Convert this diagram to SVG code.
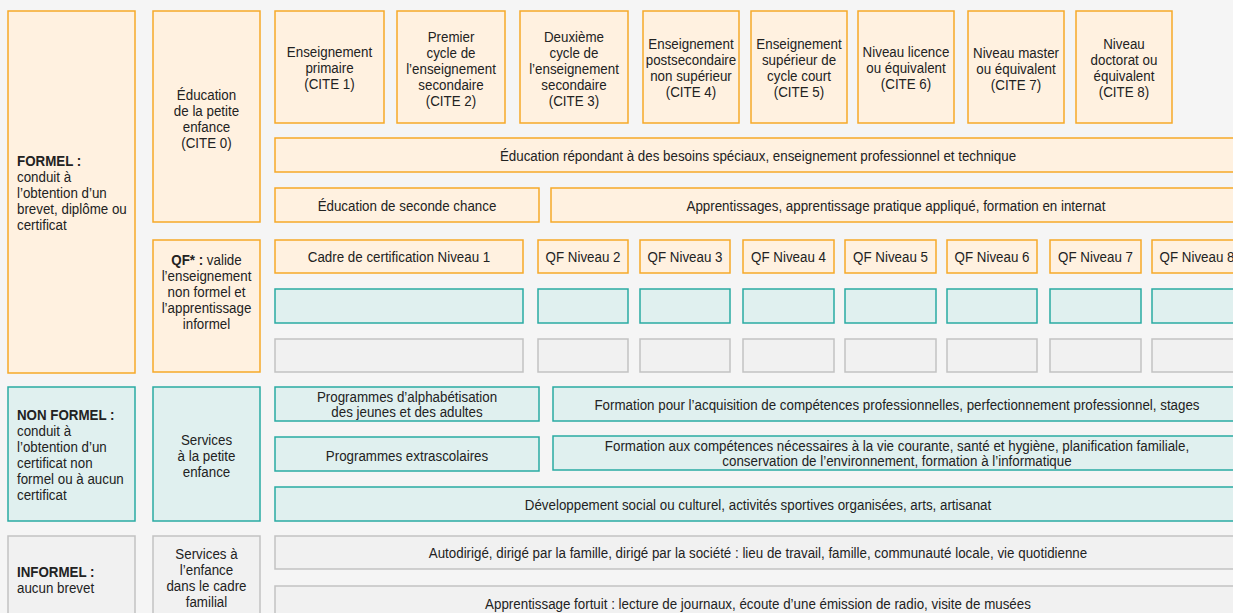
<svg xmlns="http://www.w3.org/2000/svg" width="1233" height="613" viewBox="0 0 1233 613">
<style>
.o{fill:#fff1e0;stroke:#f6a929;stroke-width:1.5}
.t{fill:#e0f0ef;stroke:#2aaba3;stroke-width:1.5}
.g{fill:#f1f1f1;stroke:#c2c2c2;stroke-width:1.5}
text{font-family:"Liberation Sans",Arial,sans-serif;font-size:15px;fill:#222;transform-box:fill-box;transform-origin:left;transform:scaleX(.89)}
text.c{text-anchor:middle;transform-origin:center}
.b{font-weight:bold}
</style>
<rect width="1233" height="613" fill="#f5f5f5"/>
<g id="formel"><rect class="o" x="8" y="11" width="127" height="362"/>
<text x="17" y="166"><tspan class="b">FORMEL :</tspan><tspan x="17" dy="16">conduit à</tspan><tspan x="17" dy="16">l’obtention d’un</tspan><tspan x="17" dy="16">brevet, diplôme ou</tspan><tspan x="17" dy="16">certificat</tspan></text></g>
<g id="nonformel"><rect class="t" x="8" y="387" width="127" height="134"/>
<text x="17" y="420"><tspan class="b">NON FORMEL :</tspan><tspan x="17" dy="16">conduit à</tspan><tspan x="17" dy="16">l’obtention d’un</tspan><tspan x="17" dy="16">certificat non</tspan><tspan x="17" dy="16">formel ou à aucun</tspan><tspan x="17" dy="16">certificat</tspan></text></g>
<g id="informel"><rect class="g" x="8" y="536" width="127" height="90"/>
<text x="17" y="577"><tspan class="b">INFORMEL :</tspan><tspan x="17" dy="16">aucun brevet</tspan></text></g>
<g id="cite0"><rect class="o" x="153" y="11" width="107" height="211"/>
<text class="c" x="206.5" y="100"><tspan x="206.5">Éducation</tspan><tspan x="206.5" dy="16">de la petite</tspan><tspan x="206.5" dy="16">enfance</tspan><tspan x="206.5" dy="16">(CITE 0)</tspan></text></g>
<g id="qf"><rect class="o" x="153" y="240" width="107" height="132"/>
<text class="c" x="206.5" y="265"><tspan x="206.5"><tspan class="b">QF* :</tspan> valide</tspan><tspan x="206.5" dy="16">l’enseignement</tspan><tspan x="206.5" dy="16">non formel et</tspan><tspan x="206.5" dy="16">l’apprentissage</tspan><tspan x="206.5" dy="16">informel</tspan></text></g>
<g id="services1"><rect class="t" x="153" y="387" width="107" height="134"/>
<text class="c" x="206.5" y="445"><tspan x="206.5">Services</tspan><tspan x="206.5" dy="16">à la petite</tspan><tspan x="206.5" dy="16">enfance</tspan></text></g>
<g id="services2"><rect class="g" x="153" y="536" width="107" height="90"/>
<text class="c" x="206.5" y="559"><tspan x="206.5">Services à</tspan><tspan x="206.5" dy="16">l’enfance</tspan><tspan x="206.5" dy="16">dans le cadre</tspan><tspan x="206.5" dy="16">familial</tspan></text></g>
<g id="cite1"><rect class="o" x="275" y="11" width="109" height="112"/>
<text class="c" y="57"><tspan x="329.5">Enseignement</tspan><tspan x="329.5" dy="16">primaire</tspan><tspan x="329.5" dy="16">(CITE 1)</tspan></text></g>
<g id="cite2"><rect class="o" x="397" y="11" width="108" height="112"/>
<text class="c" y="42"><tspan x="451">Premier</tspan><tspan x="451" dy="16">cycle de</tspan><tspan x="451" dy="16">l’enseignement</tspan><tspan x="451" dy="16">secondaire</tspan><tspan x="451" dy="16">(CITE 2)</tspan></text></g>
<g id="cite3"><rect class="o" x="520" y="11" width="108" height="112"/>
<text class="c" y="42"><tspan x="574">Deuxième</tspan><tspan x="574" dy="16">cycle de</tspan><tspan x="574" dy="16">l’enseignement</tspan><tspan x="574" dy="16">secondaire</tspan><tspan x="574" dy="16">(CITE 3)</tspan></text></g>
<g id="cite4"><rect class="o" x="643" y="11" width="96" height="112"/>
<text class="c" y="49"><tspan x="691">Enseignement</tspan><tspan x="691" dy="16">postsecondaire</tspan><tspan x="691" dy="16">non supérieur</tspan><tspan x="691" dy="16">(CITE 4)</tspan></text></g>
<g id="cite5"><rect class="o" x="751" y="11" width="96" height="112"/>
<text class="c" y="49"><tspan x="799">Enseignement</tspan><tspan x="799" dy="16">supérieur de</tspan><tspan x="799" dy="16">cycle court</tspan><tspan x="799" dy="16">(CITE 5)</tspan></text></g>
<g id="cite6"><rect class="o" x="858" y="11" width="96" height="112"/>
<text class="c" y="57"><tspan x="906">Niveau licence</tspan><tspan x="906" dy="16">ou équivalent</tspan><tspan x="906" dy="16">(CITE 6)</tspan></text></g>
<g id="cite7"><rect class="o" x="968" y="11" width="96" height="112"/>
<text class="c" y="58"><tspan x="1016">Niveau master</tspan><tspan x="1016" dy="16">ou équivalent</tspan><tspan x="1016" dy="16">(CITE 7)</tspan></text></g>
<g id="cite8"><rect class="o" x="1076" y="11" width="96" height="112"/>
<text class="c" y="49"><tspan x="1124">Niveau</tspan><tspan x="1124" dy="16">doctorat ou</tspan><tspan x="1124" dy="16">équivalent</tspan><tspan x="1124" dy="16">(CITE 8)</tspan></text></g>
<g id="besoins"><rect class="o" x="275" y="138" width="966" height="34"/>
<text class="c" x="758" y="161">Éducation répondant à des besoins spéciaux, enseignement professionnel et technique</text></g>
<g id="seconde"><rect class="o" x="275" y="188" width="264" height="34"/>
<text class="c" x="407" y="211">Éducation de seconde chance</text></g>
<g id="apprent"><rect class="o" x="551" y="188" width="690" height="34"/>
<text class="c" x="896" y="211">Apprentissages, apprentissage pratique appliqué, formation en internat</text></g>
<g id="qf1"><rect class="o" x="275" y="240" width="248" height="33"/><text class="c" x="399" y="262">Cadre de certification Niveau 1</text></g>
<g id="qf2"><rect class="o" x="538" y="240" width="90" height="33"/><text class="c" x="583" y="262">QF Niveau 2</text></g>
<g id="qf3"><rect class="o" x="640" y="240" width="90" height="33"/><text class="c" x="685" y="262">QF Niveau 3</text></g>
<g id="qf4"><rect class="o" x="743" y="240" width="91" height="33"/><text class="c" x="788.5" y="262">QF Niveau 4</text></g>
<g id="qf5"><rect class="o" x="845" y="240" width="91" height="33"/><text class="c" x="890.5" y="262">QF Niveau 5</text></g>
<g id="qf6"><rect class="o" x="947" y="240" width="90" height="33"/><text class="c" x="992" y="262">QF Niveau 6</text></g>
<g id="qf7"><rect class="o" x="1050" y="240" width="91" height="33"/><text class="c" x="1095.5" y="262">QF Niveau 7</text></g>
<g id="qf8"><rect class="o" x="1152" y="240" width="90" height="33"/><text class="c" x="1197" y="262">QF Niveau 8</text></g>
<g id="teal-row">
<rect class="t" x="275" y="289" width="248" height="34"/><rect class="t" x="538" y="289" width="90" height="34"/><rect class="t" x="640" y="289" width="90" height="34"/><rect class="t" x="743" y="289" width="91" height="34"/><rect class="t" x="845" y="289" width="91" height="34"/><rect class="t" x="947" y="289" width="90" height="34"/><rect class="t" x="1050" y="289" width="91" height="34"/><rect class="t" x="1152" y="289" width="90" height="34"/>
</g>
<g id="grey-row">
<rect class="g" x="275" y="339" width="248" height="33"/><rect class="g" x="538" y="339" width="90" height="33"/><rect class="g" x="640" y="339" width="90" height="33"/><rect class="g" x="743" y="339" width="91" height="33"/><rect class="g" x="845" y="339" width="91" height="33"/><rect class="g" x="947" y="339" width="90" height="33"/><rect class="g" x="1050" y="339" width="91" height="33"/><rect class="g" x="1152" y="339" width="90" height="33"/>
</g>
<g id="alpha"><rect class="t" x="275" y="387" width="264" height="34"/>
<text class="c" y="402"><tspan x="407">Programmes d’alphabétisation</tspan><tspan x="407" dy="15">des jeunes et des adultes</tspan></text></g>
<g id="formpro"><rect class="t" x="553" y="387" width="688" height="34"/>
<text class="c" x="897" y="410">Formation pour l’acquisition de compétences professionnelles, perfectionnement professionnel, stages</text></g>
<g id="extra"><rect class="t" x="275" y="437" width="264" height="34"/>
<text class="c" x="407" y="461">Programmes extrascolaires</text></g>
<g id="vie"><rect class="t" x="553" y="436" width="688" height="34"/>
<text class="c" y="451"><tspan x="897">Formation aux compétences nécessaires à la vie courante, santé et hygiène, planification familiale,</tspan><tspan x="897" dy="15">conservation de l’environnement, formation à l’informatique</tspan></text></g>
<g id="social"><rect class="t" x="275" y="487" width="966" height="34"/>
<text class="c" x="758" y="510">Développement social ou culturel, activités sportives organisées, arts, artisanat</text></g>
<g id="autodirige"><rect class="g" x="275" y="536" width="966" height="33"/>
<text class="c" x="758" y="558">Autodirigé, dirigé par la famille, dirigé par la société : lieu de travail, famille, communauté locale, vie quotidienne</text></g>
<g id="fortuit"><rect class="g" x="275" y="586" width="966" height="40"/>
<text class="c" x="758" y="609">Apprentissage fortuit : lecture de journaux, écoute d’une émission de radio, visite de musées</text></g>
<g id="connectors"/>
</svg>
